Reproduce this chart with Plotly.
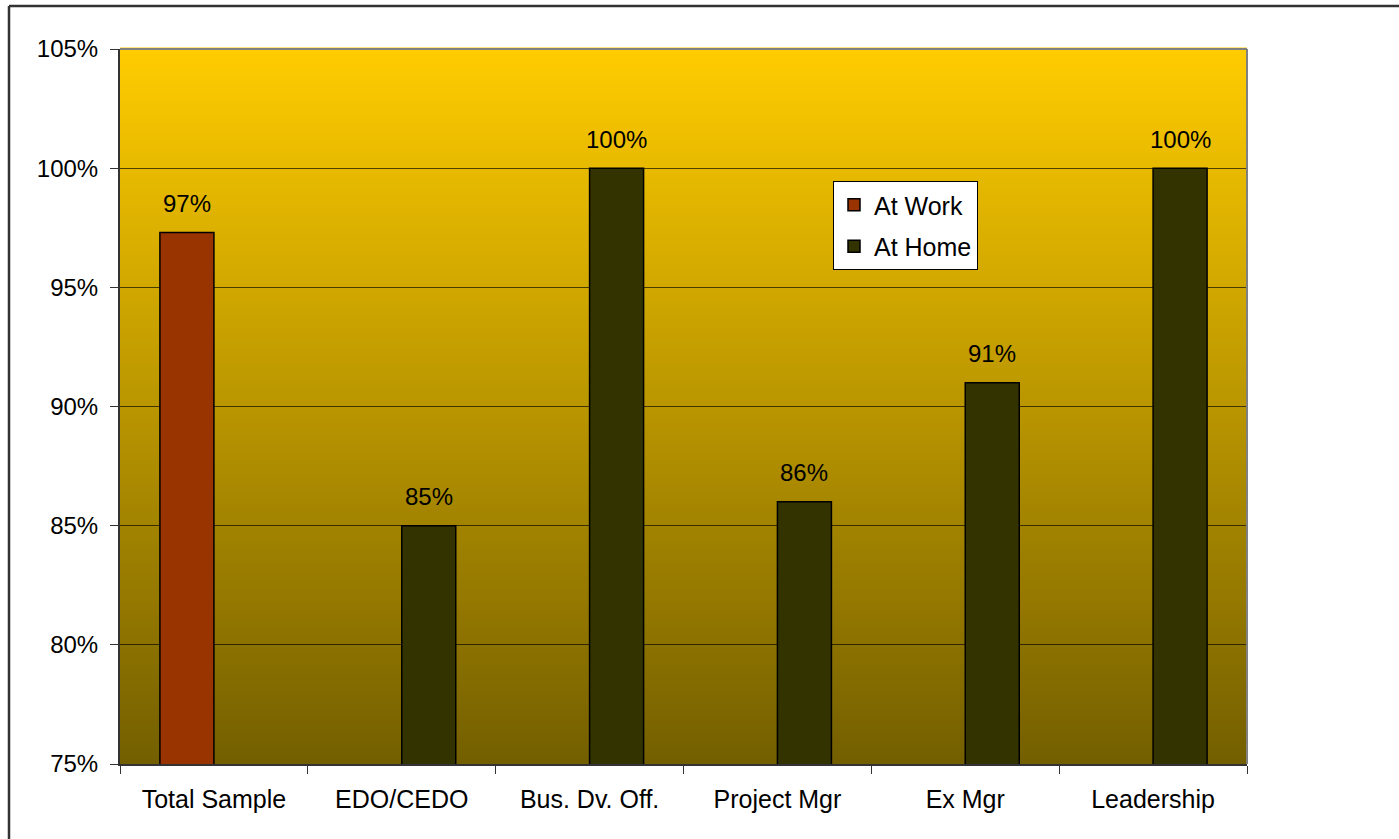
import plotly.graph_objects as go

categories = ["Total Sample", "EDO/CEDO", "Bus. Dv. Off.", "Project Mgr", "Ex Mgr", "Leadership"]
at_work = [97.3, None, None, None, None, None]
at_home = [None, 85, 100, 86, 91, 100]
y_ticks = [75, 80, 85, 90, 95, 100, 105]
y_ticklabels = ["75%", "80%", "85%", "90%", "95%", "100%", "105%"]

W, H = 1399, 839
L, R, T, B = 120, 1247, 49, 764
FONT = "Liberation Sans, Arial, sans-serif"

fig = go.Figure()
fig.add_trace(go.Bar(
    name="At Work", x=categories, y=at_work,
    marker=dict(color="#993300", line=dict(color="#000000", width=1.5)),
    legendgroup="a",
))
fig.add_trace(go.Bar(
    name="At Home", x=categories, y=at_home,
    marker=dict(color="#333300", line=dict(color="#000000", width=1.5)),
    legendgroup="b",
))

# data labels above bars
annotations = []
for series, shift in ((at_work, -27), (at_home, 27)):
    for cat, v in zip(categories, series):
        if v is None:
            continue
        annotations.append(dict(x=cat, y=v, xref="x", yref="y", text="%.0f%%" % v,
                                showarrow=False, xshift=shift, yshift=29, yanchor="middle",
                                font=dict(size=24, color="#000000", family=FONT)))

# gradient background bands (paper coords, below grid)
def lerp(a, b, t):
    return a + (b - a) * t
top = (0xFF, 0xCC, 0x00)
bot = (0x74, 0x5F, 0x00)
n = 143
shapes = []
for i in range(n):
    t = (i + 0.5) / n
    c = tuple(int(round(lerp(bot[k], top[k], t))) for k in range(3))
    shapes.append(dict(type="rect", xref="paper", yref="paper",
                       x0=0, x1=1, y0=i / n, y1=(i + 1) / n + 0.002,
                       fillcolor="rgb(%d,%d,%d)" % c, line=dict(width=0), layer="below"))
# plot-area gray border (top/right)
shapes.append(dict(type="line", xref="paper", yref="paper", x0=0, x1=1, y0=1, y1=1,
                   line=dict(color="#808080", width=2)))
shapes.append(dict(type="line", xref="paper", yref="paper", x0=1, x1=1, y0=0, y1=1,
                   line=dict(color="#808080", width=2)))
# outer chart border (top and left visible)
pw, ph = R - L, B - T
px = lambda xp: (xp - L) / pw
py = lambda yp: 1 - (yp - T) / ph
shapes.append(dict(type="line", xref="paper", yref="paper", x0=px(9), x1=px(1420), y0=py(6), y1=py(6),
                   line=dict(color="#333333", width=2.5)))
shapes.append(dict(type="line", xref="paper", yref="paper", x0=px(9), x1=px(9), y0=py(6), y1=py(860),
                   line=dict(color="#333333", width=2.5)))

fig.update_layout(
    width=W, height=H,
    margin=dict(l=L, r=W - R, t=T, b=H - B, autoexpand=False),
    paper_bgcolor="#FFFFFF", plot_bgcolor="rgba(0,0,0,0)",
    barmode="group", bargap=0.425, bargroupgap=0,
    font=dict(family=FONT, size=24, color="#000000"),
    shapes=shapes, annotations=annotations,
    showlegend=True,
    legend=dict(x=px(833), y=py(181), xanchor="left", yanchor="top",
                bgcolor="#FFFFFF", bordercolor="#000000", borderwidth=1,
                font=dict(size=25, family=FONT, color="#000000"),
                traceorder="grouped", tracegroupgap=6, itemwidth=30),
    xaxis=dict(showgrid=False, showline=True, linecolor="#333333", linewidth=1.5,
               ticks="outside", ticklen=8, tickcolor="#333333", tickson="boundaries",
               ticklabelstandoff=12, tickfont=dict(size=25), zeroline=False),
    yaxis=dict(range=[75, 105], tickvals=y_ticks, ticktext=y_ticklabels,
               showgrid=True, gridcolor="rgba(0,0,0,0.65)", gridwidth=1,
               showline=True, linecolor="#333333", linewidth=2,
               ticks="outside", ticklen=8, tickcolor="#333333",
               ticklabelstandoff=7, tickfont=dict(size=24), zeroline=False),
)

fig.write_html("out.html", config={"displayModeBar": False},
               post_script="document.body.style.margin='0px';")
